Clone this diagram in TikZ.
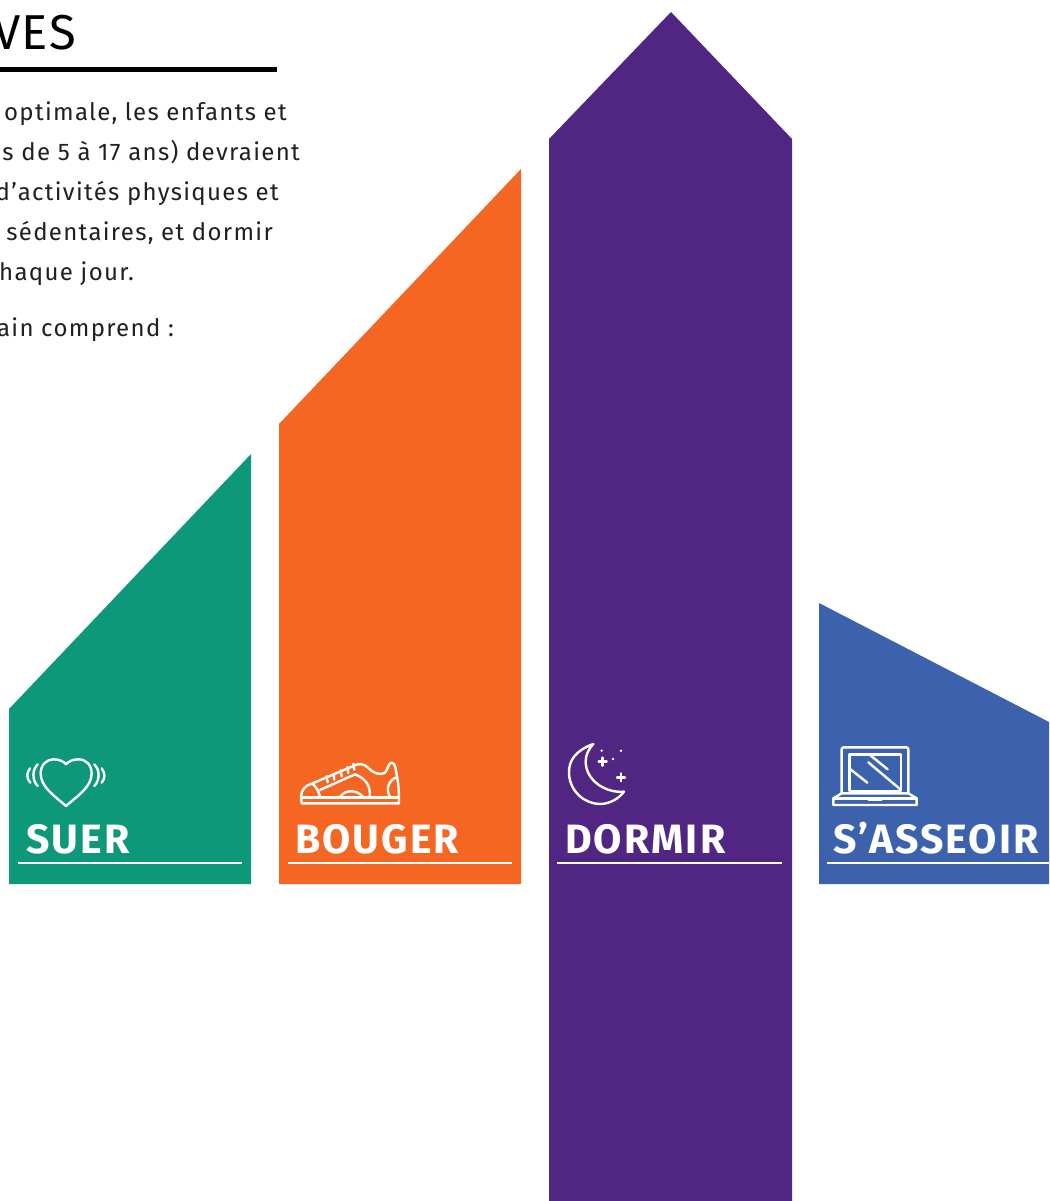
\documentclass[tikz,border=0pt]{standalone}
\usepackage{fontspec}
\setmainfont{Fira Sans}
\newfontfamily\labelfont[LetterSpace=5]{Fira Sans}
\newfontfamily\bodyfont[LetterSpace=5.5]{Fira Sans}
\newfontfamily\headfont[LetterSpace=3]{Fira Sans}
\definecolor{cgreen}{HTML}{0D9879}
\definecolor{corange}{HTML}{F46622}
\definecolor{cpurple}{HTML}{512682}
\definecolor{cblue}{HTML}{3C62AE}
\definecolor{cink}{HTML}{231F20}
\tikzset{
  bar/.style={fill=#1,draw=none},
  rulewhite/.style={draw=white,line width=2.2pt},
  icon/.style={draw=white,line width=2.4pt,line join=round,line cap=round},
  lab/.style={text=white,anchor=base west,inner sep=0pt,font=\labelfont\bfseries\fontsize{41}{41}\selectfont},
  body/.style={text=cink,anchor=base east,inner sep=0pt,font=\bodyfont\fontsize{24}{24}\selectfont},
  px/.style={x=0.3333pt,y=-0.3333pt}
}
\begin{document}
\begin{tikzpicture}[x=1pt,y=-1pt]
\useasboundingbox (0,0) rectangle (1049,1201);
\clip (0,0) rectangle (1049,1201);
\fill[white] (0,0) rectangle (1049,1201);
% bars
\path[bar=cgreen] (9,709) -- (251,454) -- (251,884) -- (9,884) -- cycle;
\path[bar=corange] (279,424) -- (521,169) -- (521,884) -- (279,884) -- cycle;
\path[bar=cpurple] (549,139) -- (671,12) -- (792,139) -- (792,1201) -- (549,1201) -- cycle;
\path[bar=cblue] (819,603) -- (1049,722) -- (1049,884) -- (819,884) -- cycle;
% heading
\node[text=black,anchor=base east,inner sep=0pt,font=\headfont\fontsize{49}{49}\selectfont] (title) at (76,50) {VES};
\coordinate (t1) at (0,70); \coordinate (t2) at (277,70);
\draw[black,line width=5pt] (t1) -- (t2);
% body
\node[body] (b1) at (287,120.5) {optimale, les enfants et};
\node[body] (b2) at (300,160.5) {s de 5 à 17 ans) devraient};
\node[body] (b3) at (279,200.5) {d’activités physiques et};
\node[body] (b4) at (273,240.5) {sédentaires, et dormir};
\node[body] (b5) at (134,280.5) {chaque jour.};
\node[body] (b6) at (174,336.5) {ain comprend :};
% labels
\node[lab] (l1) at (26,853) {SUER};
\node[lab] (l2) at (295,853) {BOUGER};
\node[lab] (l3) at (565,853) {DORMIR};
\node[lab] (l4) at (833,853) {S’ASSEOIR};
\draw[rulewhite] (18,863) -- (242,863);
\draw[rulewhite] (288,863) -- (512,863);
\draw[rulewhite] (557,863) -- (782,863);
\draw[rulewhite] (827,863) -- (1049,863);
% heart
\begin{scope}[shift={(0,730)},px]
\draw[icon] (198,228) .. controls (160,195) and (122,170) .. (122,130) .. controls (122,105) and (140,88) .. (160,88) .. controls (178,88) and (190,94) .. (198,103) .. controls (206,94) and (218,88) .. (236,88) .. controls (258,88) and (275,105) .. (275,130) .. controls (275,170) and (236,195) .. (198,228) -- cycle;
\draw[icon] (113,103) .. controls (96,120) and (96,150) .. (113,168);
\draw[icon] (90,115) .. controls (79,130) and (79,145) .. (91,158);
\draw[icon] (283,103) .. controls (300,120) and (300,150) .. (283,168);
\draw[icon] (305,115) .. controls (316,130) and (316,145) .. (305,158);
\end{scope}
% shoe
\begin{scope}[shift={(275,740)},px]
\draw[icon] (80,190) -- (78,170) .. controls (78,150) and (92,136) .. (110,131) -- (235,78) .. controls (250,70) and (265,70) .. (278,82) .. controls (292,98) and (315,108) .. (330,98) .. controls (338,90) and (340,68) .. (350,68) .. controls (362,68) and (362,90) .. (366,110) .. controls (372,140) and (372,165) .. (372,190) -- cycle;
\draw[icon] (80,172) -- (372,172);
\draw[icon] (112,131) .. controls (124,140) and (132,155) .. (135,171);
\draw[icon] (135,150) -- (240,103) .. controls (270,115) and (288,135) .. (284,171);
\draw[icon] (195,171) .. controls (210,148) and (245,148) .. (265,171);
\draw[icon] (361,113) .. controls (338,125) and (333,150) .. (345,171);
\foreach \x/\y in {155/118,175/110,197/100,217/90,235/80}
  \draw[icon] (\x,\y-9) -- (\x+3,\y+9);
\end{scope}
% moon
\begin{scope}[shift={(545,730)},px]
\draw[icon] (145,42) .. controls (95,60) and (70,90) .. (72,130) .. controls (74,185) and (120,222) .. (165,222) .. controls (195,222) and (222,205) .. (237,185) .. controls (180,190) and (122,150) .. (122,95) .. controls (122,75) and (130,58) .. (145,42) -- cycle;
\draw[icon] (161,95) -- (185,95) (173,83) -- (173,107);
\draw[icon] (216,142) -- (240,142) (228,130) -- (228,154);
\fill[white] (170,62) circle (1.4pt) (228,62) circle (1.4pt) (204,87) circle (1.4pt);
\end{scope}
% laptop
\begin{scope}[shift={(815,730)},px]
\draw[icon,rounded corners=2pt] (80,190) -- (80,52) -- (280,52) -- (280,190);
\draw[icon] (103,183) -- (103,73) -- (258,73) -- (258,183) -- cycle;
\draw[icon] (80,190) -- (280,190) -- (305,205) -- (305,225) -- (55,225) -- (55,205) -- cycle;
\draw[icon] (55,205) -- (305,205);
\draw[icon] (160,208) -- (200,208);
\draw[icon] (160,97) -- (256,178);
\draw[icon] (165,75) -- (218,118);
\draw[icon] (105,117) -- (157,158);
\end{scope}
\end{tikzpicture}
\end{document}
